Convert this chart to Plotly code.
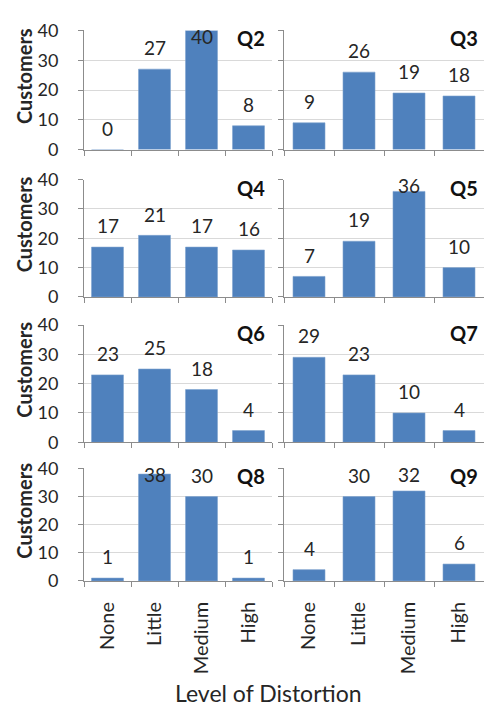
import plotly.graph_objects as go
from plotly.subplots import make_subplots

categories = ["None", "Little", "Medium", "High"]
panel_names = ["Q2", "Q3", "Q4", "Q5", "Q6", "Q7", "Q8", "Q9"]
q2 = [0, 27, 40, 8]
q3 = [9, 26, 19, 18]
q4 = [17, 21, 17, 16]
q5 = [7, 19, 36, 10]
q6 = [23, 25, 18, 4]
q7 = [29, 23, 10, 4]
q8 = [1, 38, 30, 1]
q9 = [4, 30, 32, 6]
series = [q2, q3, q4, q5, q6, q7, q8, q9]
y_ticks = [0, 10, 20, 30, 40]
y_title = "Customers"
x_title = "Level of Distortion"

W, H = 484, 714
FONT = "Lato, Carlito, Liberation Sans, sans-serif"
BAR = "#4F81BD"
GRID = "#D9D9D9"
AXIS = "#8C8C8C"
TXT = "#262626"

fig = make_subplots(rows=4, cols=2)

col_x = [(84, 272), (284, 484)]
row_y = [(19, 142), (173, 294), (323, 444), (471, 587)]
bar_w = [0.68, 0.64]

for i, vals in enumerate(series):
    r, c = i // 2, i % 2
    fig.add_trace(go.Bar(x=categories, y=vals, marker=dict(color=BAR, line=dict(color="#7EA2CF", width=0.6)),
                         width=bar_w[c], showlegend=False, hoverinfo="skip"), row=r + 1, col=c + 1)

annotations = []
for i, vals in enumerate(series):
    r, c = i // 2, i % 2
    idx = i + 1
    xa = "xaxis" if idx == 1 else f"xaxis{idx}"
    ya = "yaxis" if idx == 1 else f"yaxis{idx}"
    xref = "x" if idx == 1 else f"x{idx}"
    yref = "y" if idx == 1 else f"y{idx}"
    x0, x1 = col_x[c]
    y0, y1 = row_y[r]
    bottom = r == 3
    fig.layout[xa].update(domain=[x0 / W, x1 / W], type="category", showline=True, linecolor=AXIS,
                          linewidth=1, ticks="outside", tickson="boundaries", ticklen=5, tickcolor=AXIS,
                          showgrid=False, showticklabels=bottom, tickangle=-90,
                          tickfont=dict(family=FONT, size=20, color=TXT), ticklabelstandoff=12,
                          fixedrange=True)
    fig.layout[ya].update(domain=[1 - y1 / H, 1 - y0 / H], range=[0, 40], tickvals=y_ticks,
                          showline=True, linecolor=AXIS, linewidth=1, ticks="outside", ticklen=5,
                          tickcolor=AXIS, showgrid=True, gridcolor=GRID, gridwidth=1,
                          showticklabels=(c == 0), zeroline=False,
                          tickfont=dict(family=FONT, size=18, color=TXT), ticklabelstandoff=16,
                          fixedrange=True)
    ppu = (y1 - y0) / 40.0
    for cat, v in zip(categories, vals):
        ylab = min(v + 22 / ppu, 40 - 6 / ppu)
        annotations.append(dict(x=cat, y=ylab, xref=xref, yref=yref, text=str(v), showarrow=False,
                                yanchor="middle", xanchor="center",
                                font=dict(family=FONT, size=19, color=TXT)))
    annotations.append(dict(x=1, y=1, xref=f"{xref} domain", yref=f"{yref} domain",
                            text=f"<b>{panel_names[i]}</b>", showarrow=False, xanchor="right",
                            yanchor="middle", xshift=-5 if c == 0 else -4, yshift=-8,
                            font=dict(family=FONT, size=20, color="#111")))
    if c == 0:
        annotations.append(dict(x=24 / W, y=0.5, xref="paper", yref=f"{yref} domain",
                                text=f"<b>{y_title}</b>", textangle=-90, showarrow=False,
                                xanchor="center", yanchor="middle", yshift=14,
                                font=dict(family=FONT, size=20, color=TXT)))

annotations.append(dict(x=268 / W, y=1 - 703 / H, xref="paper", yref="paper", text=x_title,
                        showarrow=False, xanchor="center", yanchor="middle",
                        font=dict(family=FONT, size=23, color=TXT)))

fig.update_layout(width=W, height=H, margin=dict(l=0, r=0, t=0, b=0), paper_bgcolor="white",
                  plot_bgcolor="white", annotations=annotations, bargap=0.3)

fig.write_html("out.html", config={"displayModeBar": False},
               post_script="document.body.style.margin='0';document.body.style.overflow='hidden';"
                           "document.documentElement.style.overflow='hidden';")
